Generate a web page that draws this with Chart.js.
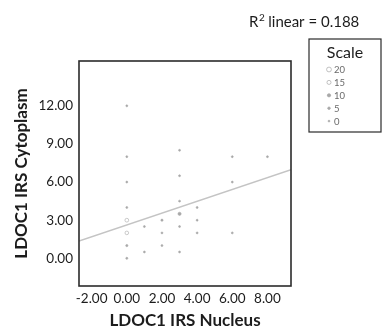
<!DOCTYPE html>
<html>
<head>
<meta charset="utf-8">
<script src="https://cdn.jsdelivr.net/npm/chart.js@4/dist/chart.umd.min.js"></script>
<style>
html,body{margin:0;padding:0;background:#fff;}
canvas{display:block;}
</style>
</head>
<body>
<canvas id="chart" width="383" height="329"></canvas>
<script>
/*========== Data ==========*/

const nucleus=[0,0,0,0,0,0,0,0,1,1,2,2,2,3,3,3,3,3,3,4,4,4,6,6,6,8];
const cytoplasm=[12,8,6,4,3,2,1,0,2.5,0.5,3,2,1,8.5,6.5,4.5,3.5,2.5,0.5,4,3,2,8,6,2,8];
const cases=[1,1,1,1,13,12,3,2,1,1,3,1,1,1,1,1,9,1,1,1,1,1,1,1,1,1];

const xTicks=[-2,0,2,4,6,8];
const yTicks=[0,3,6,9,12];
const xRange=[-2.72,9.34];
const yRange=[-2.18,15.53];

const fitIntercept=2.63;
const fitSlope=0.466;
const rSquared="0.188";

const scaleLabels=["20","15","10","5","0"];
const scaleCases=[20,15,10,5,0];

/*========== Helpers ==========*/

const GREY="#a8a8a8";
const INK="#1c1c1c";
const FONT="Lato, 'Open Sans', sans-serif";

function radiusFor(n){
    return 0.9+n/20*1.5;
}

function fillFor(n){
    return n>=12?"#ffffff":GREY;
}

/*========== Plugins ==========*/

const frame={
    id:"frame",
    afterDraw(chart){
        const {ctx,chartArea:a}=chart;
        ctx.save();
        ctx.strokeStyle="#2b2b2b";
        ctx.lineWidth=1.6;
        ctx.strokeRect(a.left,a.top,a.right-a.left,a.bottom-a.top);
        ctx.restore();
    }
};

const extras={
    id:"extras",
    afterDraw(chart){
        const ctx=chart.ctx;
        ctx.save();

        // R squared note
        ctx.fillStyle=INK;
        ctx.textBaseline="alphabetic";
        ctx.textAlign="left";
        ctx.font="15px "+FONT;
        ctx.fillText("R",249,27);
        const rw=ctx.measureText("R").width;
        ctx.font="10px "+FONT;
        ctx.fillText("2",249+rw+0.5,21);
        ctx.font="15px "+FONT;
        ctx.fillText(" linear = "+rSquared,249+rw+6,27);

        // size legend
        ctx.strokeStyle="#2b2b2b";
        ctx.lineWidth=1.2;
        ctx.strokeRect(309,39,72,93);
        ctx.font="16px "+FONT;
        ctx.textAlign="center";
        ctx.fillStyle=INK;
        ctx.fillText("Scale",345,58);

        ctx.font="9.5px "+FONT;
        ctx.textAlign="left";
        ctx.textBaseline="middle";
        scaleLabels.forEach((t,i)=>{
            const y=69.5+i*12.9;
            const n=scaleCases[i];
            ctx.beginPath();
            ctx.arc(329,y,radiusFor(n),0,Math.PI*2);
            ctx.fillStyle=fillFor(n);
            ctx.fill();
            ctx.strokeStyle=GREY;
            ctx.lineWidth=0.7;
            ctx.stroke();
            ctx.fillStyle="#6a6a6a";
            ctx.fillText(t,334,y+0.5);
        });

        ctx.restore();
    }
};

/*========== Chart ==========*/

const points=nucleus.map((x,i)=>({x,y:cytoplasm[i]}));
const fitLine=xRange.map(x=>({x,y:fitIntercept+fitSlope*x}));

new Chart(document.getElementById("chart"),{
    type:"scatter",
    data:{
        datasets:[
            {
                data:points,
                pointRadius:cases.map(radiusFor),
                pointBackgroundColor:cases.map(fillFor),
                pointBorderColor:GREY,
                pointBorderWidth:0.6,
                order:1
            },
            {
                type:"line",
                data:fitLine,
                borderColor:"#c4c4c4",
                borderWidth:1.5,
                pointRadius:0,
                fill:false,
                order:2
            }
        ]
    },
    options:{
        responsive:false,
        animation:false,
        layout:{padding:{top:61,right:92,left:0,bottom:0}},
        plugins:{legend:{display:false},tooltip:{enabled:false}},
        scales:{
            x:{
                type:"linear",
                min:xRange[0],
                max:xRange[1],
                grid:{display:false,drawTicks:false},
                border:{display:false},
                afterBuildTicks:s=>{s.ticks=xTicks.map(v=>({value:v}));},
                afterFit:s=>{s.height=43;},
                ticks:{
                    padding:5,
                    color:INK,
                    font:{family:FONT,size:13.5},
                    callback:v=>Number(v).toFixed(2)
                },
                title:{
                    display:true,
                    text:"LDOC1 IRS Nucleus",
                    color:INK,
                    padding:{top:0,bottom:0},
                    font:{family:FONT,size:17,weight:"bold",lineHeight:1}
                }
            },
            y:{
                type:"linear",
                min:yRange[0],
                max:yRange[1],
                grid:{display:false,drawTicks:false},
                border:{display:false},
                afterBuildTicks:s=>{s.ticks=yTicks.map(v=>({value:v}));},
                afterFit:s=>{s.width=79;},
                ticks:{
                    padding:6,
                    color:INK,
                    font:{family:FONT,size:13.5},
                    callback:v=>Number(v).toFixed(2)
                },
                title:{
                    display:true,
                    text:"LDOC1 IRS Cytoplasm",
                    color:INK,
                    padding:{top:13,bottom:0},
                    font:{family:FONT,size:17,weight:"bold",lineHeight:1}
                }
            }
        }
    },
    plugins:[frame,extras]
});
</script>
</body>
</html>
